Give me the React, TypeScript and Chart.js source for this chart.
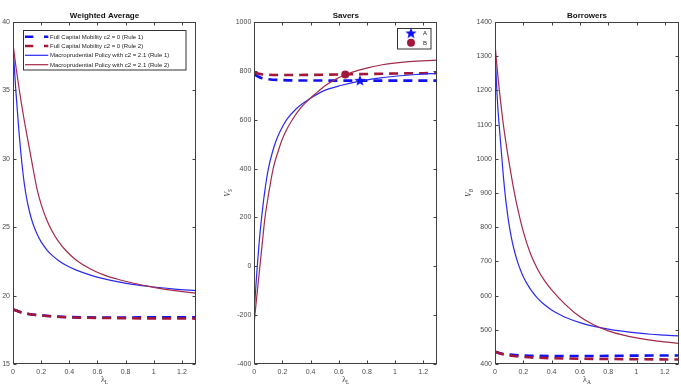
import React, { useEffect, useRef } from "react";
import { Chart, registerables } from "chart.js";
Chart.register(...registerables);

// ---------------- data ----------------
const X_TICKS = [0, 0.2, 0.4, 0.6, 0.8, 1.0, 1.2];
const X_TICK_LABELS = ["0", "0.2", "0.4", "0.6", "0.8", "1", "1.2"];

const SERIES_NAMES = [
  "Full Capital Mobility c2 = 0 (Rule 1)",
  "Full Capital Mobility c2 = 0 (Rule 2)",
  "Macroprudential Policy with c2 = 2.1 (Rule 1)",
  "Macroprudential Policy with c2 = 2.1 (Rule 2)",
];

// Weighted Average
const W_Y_TICKS = [15, 20, 25, 30, 35, 40];
const W_FCM_X = [0, 0.05, 0.1, 0.2, 0.4, 0.7, 1.0, 1.3];
const W_FCM_R1 = [19.0, 18.8, 18.68, 18.55, 18.43, 18.4, 18.41, 18.42];
const W_FCM_R2 = [19.0, 18.8, 18.68, 18.55, 18.41, 18.36, 18.33, 18.32];
const W_MACRO_R1_X = [0, 0.01, 0.02, 0.04, 0.06, 0.08, 0.1, 0.12, 0.14, 0.17, 0.2, 0.24, 0.28, 0.32, 0.38, 0.45, 0.55, 0.65, 0.75, 0.85, 1.0, 1.15, 1.3];
const W_MACRO_R1 = [38.4, 36.6, 35.0, 32.3, 30.0, 28.2, 26.94, 26.02, 25.31, 24.52, 23.93, 23.35, 22.92, 22.59, 22.2, 21.86, 21.5, 21.22, 21.0, 20.82, 20.63, 20.48, 20.37];
const W_MACRO_R2_X = [0, 0.02, 0.04, 0.06, 0.08, 0.1, 0.13, 0.17, 0.2, 0.24, 0.28, 0.32, 0.38, 0.45, 0.55, 0.65, 0.75, 0.85, 1.0, 1.15, 1.3];
const W_MACRO_R2 = [38.4, 36.8, 35.36, 34.04, 32.8, 31.65, 30.0, 27.82, 26.67, 25.53, 24.67, 24.0, 23.24, 22.59, 21.95, 21.5, 21.18, 20.92, 20.6, 20.36, 20.18];

// Savers
const S_Y_TICKS = [-400, -200, 0, 200, 400, 600, 800, 1000];
const S_FCM_X = [0, 0.05, 0.1, 0.2, 0.4, 0.7, 1.0, 1.3];
const S_FCM_R1 = [785, 771, 766, 762, 760.5, 760, 760, 760];
const S_FCM_R2 = [792, 786, 784, 783, 783.5, 786, 789, 791];
const S_MACRO_R1_X = [0, 0.01, 0.021, 0.035, 0.052, 0.075, 0.1, 0.13, 0.16, 0.19, 0.23, 0.3, 0.394, 0.5, 0.62, 0.75, 0.87, 1.0, 1.15, 1.3];
const S_MACRO_R1 = [-180, -92, 0, 100, 200, 310, 400, 470, 522, 560, 600, 646, 686, 720, 741, 758, 769, 778, 785, 790];
const S_MACRO_R2_X = [0, 0.02, 0.04, 0.058, 0.076, 0.1, 0.134, 0.17, 0.2, 0.23, 0.27, 0.33, 0.394, 0.45, 0.5, 0.57, 0.646, 0.75, 0.91, 1.1, 1.3];
const S_MACRO_R2 = [-225, -110, 0, 102, 200, 290, 400, 472, 522, 560, 600, 648, 686, 714, 738, 763, 784, 804, 825, 838, 844];
const POINT_A = { x: 0.75, y: 759 };
const POINT_B = { x: 0.646, y: 785 };

// Borrowers
const B_Y_TICKS = [400, 500, 600, 700, 800, 900, 1000, 1100, 1200, 1300, 1400];
const B_FCM_X = [0, 0.05, 0.1, 0.2, 0.4, 0.7, 1.0, 1.3];
const B_FCM_R1 = [436, 430, 428, 425, 423.5, 423.5, 424.5, 425];
const B_FCM_R2 = [436, 429, 425, 420.5, 417, 415, 414, 413];
const B_MACRO_R1_X = [0, 0.01, 0.02, 0.03, 0.04, 0.05, 0.06, 0.07, 0.08, 0.09, 0.1, 0.12, 0.14, 0.16, 0.18, 0.2, 0.23, 0.26, 0.3, 0.35, 0.4, 0.45, 0.5, 0.6, 0.7, 0.8, 0.9, 1.0, 1.1, 1.2, 1.3];
const B_MACRO_R1 = [1335, 1225, 1150, 1095, 1045, 995, 945, 902, 866, 834, 806, 761, 726, 698, 675, 655, 632, 613, 592.5, 573, 558, 546, 536, 521, 510, 502, 496, 491, 487, 484.5, 482];
const B_MACRO_R2_X = [0, 0.01, 0.02, 0.03, 0.045, 0.06, 0.08, 0.095, 0.12, 0.15, 0.2, 0.25, 0.3, 0.35, 0.4, 0.5, 0.6, 0.7, 0.8, 0.9, 1.0, 1.15, 1.3];
const B_MACRO_R2 = [1337, 1288, 1244, 1203, 1148, 1097, 1040, 1000, 939, 874, 787, 723, 678, 644, 617, 573, 538, 514, 497, 485, 476.5, 467, 460.5];

// ---------------- styles ----------------
const BLUE = "#1010f0";
const RED = "#a3173a";
const BLUE_SOLID = "#2a2af0";
const RED_SOLID = "#a32a48";
const AXIS = "#404040";
const TICK_TXT = "#4a4a4a";
const SANS = "'Liberation Sans', Arial, sans-serif";
const SERIF = "'Liberation Serif', 'DejaVu Serif', serif";

function makeStar(r: number, color: string) {
  const c = document.createElement("canvas");
  const s = Math.ceil(r * 2 + 2);
  c.width = s;
  c.height = s;
  const ctx = c.getContext("2d")!;
  const cx = s / 2, cy = s / 2;
  ctx.beginPath();
  for (let i = 0; i < 10; i++) {
    const rad = i % 2 === 0 ? r : r * 0.42;
    const ang = -Math.PI / 2 + (i * Math.PI) / 5;
    const px = cx + rad * Math.cos(ang);
    const py = cy + rad * Math.sin(ang);
    if (i === 0) ctx.moveTo(px, py);
    else ctx.lineTo(px, py);
  }
  ctx.closePath();
  ctx.fillStyle = color;
  ctx.fill();
  return c;
}

function zip(xs: number[], ys: number[]) {
  return xs.map((x, i) => ({ x, y: ys[i] }));
}

const decorPlugin = {
  id: "decor",
  afterDraw(chart: any, _args: any, opts: any) {
    const ctx = chart.ctx as CanvasRenderingContext2D;
    const a = chart.chartArea;
    const xs = chart.scales.x;
    const ys = chart.scales.y;
    ctx.save();
    const L = Math.round(a.left) + 0.5;
    const R = Math.round(a.right) - 0.5;
    const T = Math.round(a.top) + 0.5;
    const B = Math.round(a.bottom) - 0.5;
    ctx.strokeStyle = AXIS;
    ctx.lineWidth = 1;
    ctx.strokeRect(L, T, R - L, B - T);
    const tl = 3;
    ctx.beginPath();
    for (const v of X_TICKS) {
      const px = Math.round(xs.getPixelForValue(v)) + 0.5;
      ctx.moveTo(px, B); ctx.lineTo(px, B - tl);
      ctx.moveTo(px, T); ctx.lineTo(px, T + tl);
    }
    for (const v of opts.yTicks) {
      const py = Math.round(ys.getPixelForValue(v)) + 0.5;
      ctx.moveTo(L, py); ctx.lineTo(L + tl, py);
      ctx.moveTo(R, py); ctx.lineTo(R - tl, py);
    }
    ctx.stroke();

    // title
    const cx = (a.left + a.right) / 2;
    ctx.fillStyle = "#111";
    ctx.font = `bold 8px ${SANS}`;
    ctx.textAlign = "center";
    ctx.textBaseline = "middle";
    ctx.fillText(opts.title, cx, 16);

    // x label (lambda with subscript)
    ctx.fillStyle = "#333";
    ctx.font = `8px ${SERIF}`;
    const lw = ctx.measureText("λ").width;
    ctx.font = `5.5px ${SERIF}`;
    const sw = ctx.measureText(opts.xSub).width;
    const startX = cx - (lw + sw) / 2;
    ctx.textAlign = "left";
    ctx.font = `8px ${SERIF}`;
    ctx.fillText("λ", startX, 380);
    ctx.font = `5.5px ${SERIF}`;
    ctx.fillText(opts.xSub, startX + lw, 382.5);

    // y label
    if (opts.ySub) {
      ctx.save();
      ctx.translate(opts.yLabelX, (a.top + a.bottom) / 2);
      ctx.rotate(-Math.PI / 2);
      ctx.font = `italic 8px ${SERIF}`;
      const vw = ctx.measureText("V").width;
      ctx.font = `italic 5.5px ${SERIF}`;
      const ssw = ctx.measureText(opts.ySub).width;
      const sx = -(vw + ssw) / 2;
      ctx.textAlign = "left";
      ctx.font = `italic 8px ${SERIF}`;
      ctx.fillText("V", sx, 0);
      ctx.font = `italic 5.5px ${SERIF}`;
      ctx.fillText(opts.ySub, sx + vw, 2.5);
      ctx.restore();
    }

    // legends
    if (opts.legend === "series") {
      const bx = 23.5, by = 30.5, bw = 162.5, bh = 39.5;
      ctx.fillStyle = "#fff";
      ctx.fillRect(bx, by, bw, bh);
      ctx.strokeStyle = "#333";
      ctx.lineWidth = 1;
      ctx.strokeRect(bx, by, bw, bh);
      const rows = [36.7, 46, 55.3, 64.7];
      const cols = [BLUE, RED, BLUE_SOLID, RED_SOLID];
      rows.forEach((ry, i) => {
        ctx.strokeStyle = cols[i];
        ctx.beginPath();
        if (i < 2) {
          ctx.lineWidth = 2.5;
          ctx.moveTo(25, ry); ctx.lineTo(33.3, ry);
          ctx.moveTo(44, ry); ctx.lineTo(48.3, ry);
        } else {
          ctx.lineWidth = 1.2;
          ctx.moveTo(25, ry); ctx.lineTo(48.3, ry);
        }
        ctx.stroke();
        ctx.fillStyle = "#222";
        ctx.font = `6px ${SANS}`;
        ctx.textAlign = "left";
        ctx.textBaseline = "middle";
        ctx.fillText(SERIES_NAMES[i], 50, ry + 0.3);
      });
    } else if (opts.legend === "points") {
      const bx = 177.5, by = 28.5, bw = 33.5, bh = 20.5;
      ctx.fillStyle = "#fff";
      ctx.fillRect(bx, by, bw, bh);
      ctx.strokeStyle = "#333";
      ctx.lineWidth = 1;
      ctx.strokeRect(bx, by, bw, bh);
      const star = opts.star as HTMLCanvasElement;
      ctx.drawImage(star, 191 - star.width / 2, 33.5 - star.height / 2);
      ctx.fillStyle = RED;
      ctx.beginPath();
      ctx.arc(191, 42.7, 4, 0, Math.PI * 2);
      ctx.fill();
      ctx.fillStyle = "#222";
      ctx.font = `6px ${SANS}`;
      ctx.textAlign = "left";
      ctx.textBaseline = "middle";
      ctx.fillText("A", 203, 33.8);
      ctx.fillText("B", 203, 43);
    }
    ctx.restore();
  },
};

type Panel = {
  left: number;
  width: number;
  yWidth: number;
  padRight: number;
  yTicks: number[];
  title: string;
  xSub: string;
  ySub?: string;
  yLabelX?: number;
  legend?: string;
  series: { x: number[]; y: number[] }[];
  points?: boolean;
};

const PANELS: Panel[] = [
  {
    left: 0, width: 220, yWidth: 13, padRight: 24, yTicks: W_Y_TICKS, title: "Weighted Average", xSub: "L", legend: "series",
    series: [
      { x: W_FCM_X, y: W_FCM_R1 },
      { x: W_FCM_X, y: W_FCM_R2 },
      { x: W_MACRO_R1_X, y: W_MACRO_R1 },
      { x: W_MACRO_R2_X, y: W_MACRO_R2 },
    ],
  },
  {
    left: 220, width: 230, yWidth: 34.3, padRight: 12.7, yTicks: S_Y_TICKS, title: "Savers", xSub: "L", ySub: "S", yLabelX: 8, legend: "points", points: true,
    series: [
      { x: S_FCM_X, y: S_FCM_R1 },
      { x: S_FCM_X, y: S_FCM_R2 },
      { x: S_MACRO_R1_X, y: S_MACRO_R1 },
      { x: S_MACRO_R2_X, y: S_MACRO_R2 },
    ],
  },
  {
    left: 450, width: 231, yWidth: 45, padRight: 2, yTicks: B_Y_TICKS, title: "Borrowers", xSub: "A", ySub: "B", yLabelX: 19,
    series: [
      { x: B_FCM_X, y: B_FCM_R1 },
      { x: B_FCM_X, y: B_FCM_R2 },
      { x: B_MACRO_R1_X, y: B_MACRO_R1 },
      { x: B_MACRO_R2_X, y: B_MACRO_R2 },
    ],
  },
];

function PanelChart({ p }: { p: Panel }) {
  const ref = useRef<HTMLCanvasElement>(null);
  useEffect(() => {
    const star = makeStar(6, BLUE);
    const cols = [BLUE, RED, BLUE_SOLID, RED_SOLID];
    const datasets: any[] = p.series.map((s, i) => ({
      label: SERIES_NAMES[i],
      data: zip(s.x, s.y),
      borderColor: cols[i],
      backgroundColor: cols[i],
      borderWidth: i < 2 ? 2.6 : 1.2,
      borderDash: i < 2 ? [9, 6] : [],
      pointRadius: 0,
      cubicInterpolationMode: "monotone",
      order: 10 - i,
    }));
    if (p.points) {
      datasets.push({
        label: "A",
        data: [POINT_A],
        showLine: false,
        pointStyle: star,
        pointRadius: 6,
        order: 1,
      });
      datasets.push({
        label: "B",
        data: [POINT_B],
        showLine: false,
        pointStyle: "circle",
        pointRadius: 4,
        pointBackgroundColor: RED,
        pointBorderColor: RED,
        pointBorderWidth: 0,
        order: 0,
      });
    }
    const yMin = p.yTicks[0];
    const yMax = p.yTicks[p.yTicks.length - 1];
    const chart = new Chart(ref.current!, {
      type: "line",
      data: { datasets },
      plugins: [decorPlugin],
      options: {
        animation: false,
        responsive: false,
        devicePixelRatio: 1,
        layout: { padding: { top: 22, bottom: 0, left: 0, right: p.padRight } },
        plugins: {
          legend: { display: false },
          tooltip: { enabled: false },
          title: { display: false },
          decor: {
            yTicks: p.yTicks,
            title: p.title,
            xSub: p.xSub,
            ySub: p.ySub,
            yLabelX: p.yLabelX,
            legend: p.legend,
            star,
          },
        } as any,
        scales: {
          x: {
            type: "linear",
            min: 0,
            max: 1.3,
            grid: { display: false, drawTicks: false },
            border: { display: false },
            afterBuildTicks: (scale: any) => {
              scale.ticks = X_TICKS.map((v) => ({ value: v }));
            },
            afterFit: (scale: any) => {
              scale.height = 21;
            },
            ticks: {
              autoSkip: false,
              maxRotation: 0,
              padding: 4,
              color: TICK_TXT,
              font: { size: 7, family: SANS },
              callback: (_v: any, i: number) => X_TICK_LABELS[i],
            },
          },
          y: {
            type: "linear",
            min: yMin,
            max: yMax,
            grid: { display: false, drawTicks: false },
            border: { display: false },
            afterBuildTicks: (scale: any) => {
              scale.ticks = p.yTicks.map((v) => ({ value: v }));
            },
            afterFit: (scale: any) => {
              scale.width = p.yWidth;
            },
            ticks: {
              autoSkip: false,
              padding: 3,
              color: TICK_TXT,
              font: { size: 7, family: SANS },
              callback: (_v: any, i: number) => String(p.yTicks[i]),
            },
          },
        },
      } as any,
    });
    return () => chart.destroy();
  }, [p]);
  return (
    <canvas
      ref={ref}
      width={p.width}
      height={385}
      style={{ position: "absolute", left: p.left, top: 0, width: p.width, height: 385 }}
    />
  );
}

export default function App() {
  return (
    <div style={{ position: "absolute", left: 0, top: 0, width: 681, height: 385, background: "#fff" }}>
      {PANELS.map((p, i) => (
        <PanelChart key={i} p={p} />
      ))}
    </div>
  );
}
